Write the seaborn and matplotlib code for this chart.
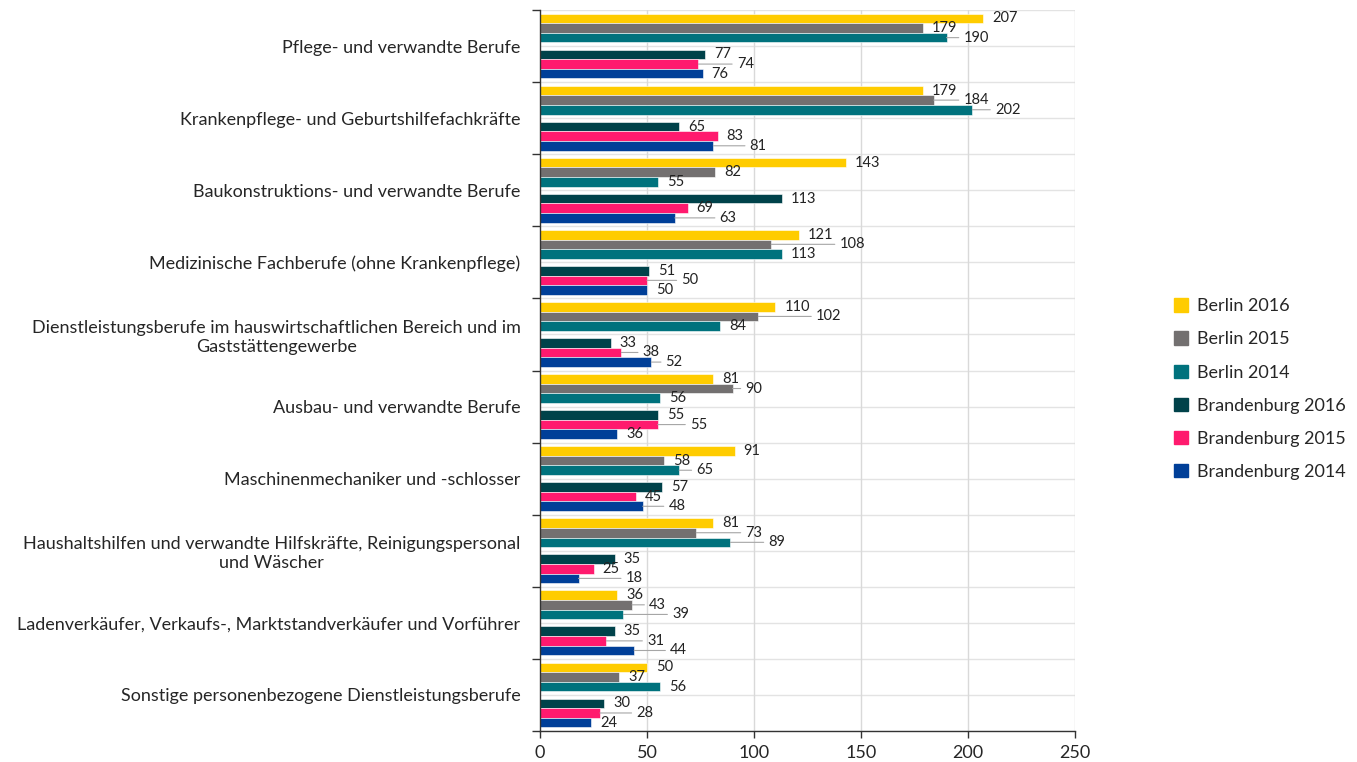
import pandas as pd
import matplotlib.pyplot as plt
import matplotlib.patches as mpatches
import seaborn as sns
import numpy as np

# categories and values
categories = [
    'Pflege- und verwandte Berufe',
    'Krankenpflege- und Geburtshilfefachkräfte',
    'Baukonstruktions- und verwandte Berufe',
    'Medizinische Fachberufe (ohne Krankenpflege)',
    'Dienstleistungsberufe im hauswirtschaftlichen Bereich und im\nGaststättengewerbe',
    'Ausbau- und verwandte Berufe',
    'Maschinenmechaniker und -schlosser',
    'Haushaltshilfen und verwandte Hilfskräfte, Reinigungspersonal\nund Wäscher',
    'Ladenverkäufer, Verkaufs-, Marktstandverkäufer und Vorführer',
    'Sonstige personenbezogene Dienstleistungsberufe',
]
berlin_2016 = [207, 179, 143, 121, 110, 81, 91, 81, 36, 50]
berlin_2015 = [179, 184, 82, 108, 102, 90, 58, 73, 43, 37]
berlin_2014 = [190, 202, 55, 113, 84, 56, 65, 89, 39, 56]
bb_2016 = [77, 65, 113, 51, 33, 55, 57, 35, 35, 30]
bb_2015 = [74, 83, 69, 50, 38, 55, 45, 25, 31, 28]
bb_2014 = [76, 81, 63, 50, 52, 36, 48, 18, 44, 24]

years = ['2016', '2015', '2014']
berlin_colors = ['#FFCC00', '#737070', '#00727D']
bb_colors = ['#00424A', '#FF1A6E', '#003F98']

# each category gets two rows: Berlin on top, Brandenburg below
rows = []
for i in range(len(categories)):
    rows += [f'{i}_BE', f'{i}_BB']

def to_long(region, series):
    recs = []
    for year, vals in zip(years, series):
        for i, v in enumerate(vals):
            recs.append({'row': f'{i}_{region}', 'Jahr': year, 'Wert': v})
    return pd.DataFrame(recs)

df_be = to_long('BE', [berlin_2016, berlin_2015, berlin_2014])
df_bb = to_long('BB', [bb_2016, bb_2015, bb_2014])

sns.set_style('white')
plt.rcParams['font.family'] = ['Lato', 'DejaVu Sans']

fig = plt.figure(figsize=(13.57, 7.62), dpi=100)
ax = fig.add_axes([540 / 1357, 1 - 731 / 762, 535 / 1357, 721 / 762])

sns.barplot(data=df_be, x='Wert', y='row', hue='Jahr', order=rows, hue_order=years,
            palette=berlin_colors, saturation=1, orient='h', width=0.8, legend=False, ax=ax,
            edgecolor='white', linewidth=0.4)
sns.barplot(data=df_bb, x='Wert', y='row', hue='Jahr', order=rows, hue_order=years,
            palette=bb_colors, saturation=1, orient='h', width=0.8, legend=False, ax=ax,
            edgecolor='white', linewidth=0.4)

ax.set_xlim(0, 250)
ax.set_ylim(len(rows) - 0.5, -0.5)
ax.set_xticks([0, 50, 100, 150, 200, 250])
ax.set_xlabel('')
ax.set_ylabel('')

# ticks on the category boundaries, labels in the category centres
ax.set_yticks(np.arange(-0.5, len(rows), 2))
ax.set_yticklabels([])
ax.set_yticks(np.arange(0.5, len(rows), 2), minor=True)
ax.set_yticklabels(categories, minor=True, fontsize=13, ha='right', multialignment='center')
ax.tick_params(axis='y', which='major', direction='out', length=6, width=1, color='#333333', left=True)
ax.tick_params(axis='y', which='minor', length=0, pad=14)
ax.tick_params(axis='x', direction='out', length=5, width=1, color='#333333', bottom=True,
               labelsize=13, pad=5)

for yb in np.arange(-0.5, len(rows), 1):
    ax.axhline(yb, color='#e3e3e3', lw=1, zorder=0)
for xv in [50, 100, 150, 200, 250]:
    ax.axvline(xv, color='#d9d9d9', lw=1, zorder=0)

for s in ['top', 'right']:
    ax.spines[s].set_visible(False)
for s in ['left', 'bottom']:
    ax.spines[s].set_color('#333333')
    ax.spines[s].set_linewidth(1)

# data labels: like Excel, push a label to the right (with a leader line)
# when it would collide with the label of the bar just above
renderer = fig.canvas.get_renderer()
bars = []
for cont in ax.containers:
    for rect, val in zip(cont.patches, cont.datavalues):
        if np.isfinite(val):
            bars.append((rect.get_y() + rect.get_height() / 2, rect.get_width(), val))
bars.sort()
pad = 9
label_fs = 10.5
prev = None
prev_row = None
for yc, xend, val in bars:
    row = int(round(yc))
    txt = f'{val:.0f}'
    probe = ax.text(0, 0, txt, fontsize=label_fs)
    w = probe.get_window_extent(renderer).width
    probe.remove()
    x_px = ax.transData.transform((xend, yc))[0]
    left = x_px + pad
    shifted = False
    if prev_row == row and prev is not None:
        p_left, p_right = prev
        if left < p_right + 3 and left + w > p_left - 3:
            left = p_right + 6
            shifted = True
    dx_pt = (left - x_px) * 72 / fig.dpi
    kw = dict(xy=(xend, yc), xytext=(dx_pt, 0), textcoords='offset points',
              va='center', ha='left', fontsize=label_fs, color='#222222')
    if shifted:
        kw['arrowprops'] = dict(arrowstyle='-', color='#a6a6a6', lw=0.8, shrinkA=1, shrinkB=0)
    ax.annotate(txt, **kw)
    prev = (left, left + w)
    prev_row = row

names = ['Berlin 2016', 'Berlin 2015', 'Berlin 2014',
         'Brandenburg 2016', 'Brandenburg 2015', 'Brandenburg 2014']
handles = [mpatches.Patch(color=c, label=n) for c, n in zip(berlin_colors + bb_colors, names)]
fig.legend(handles=handles, loc='upper left', bbox_to_anchor=(1158 / 1357, 1 - 282 / 762),
           frameon=False, fontsize=13, handlelength=0.75, handleheight=0.75,
           handletextpad=0.5, labelspacing=0.95)

fig.savefig('out.png', dpi=100)
